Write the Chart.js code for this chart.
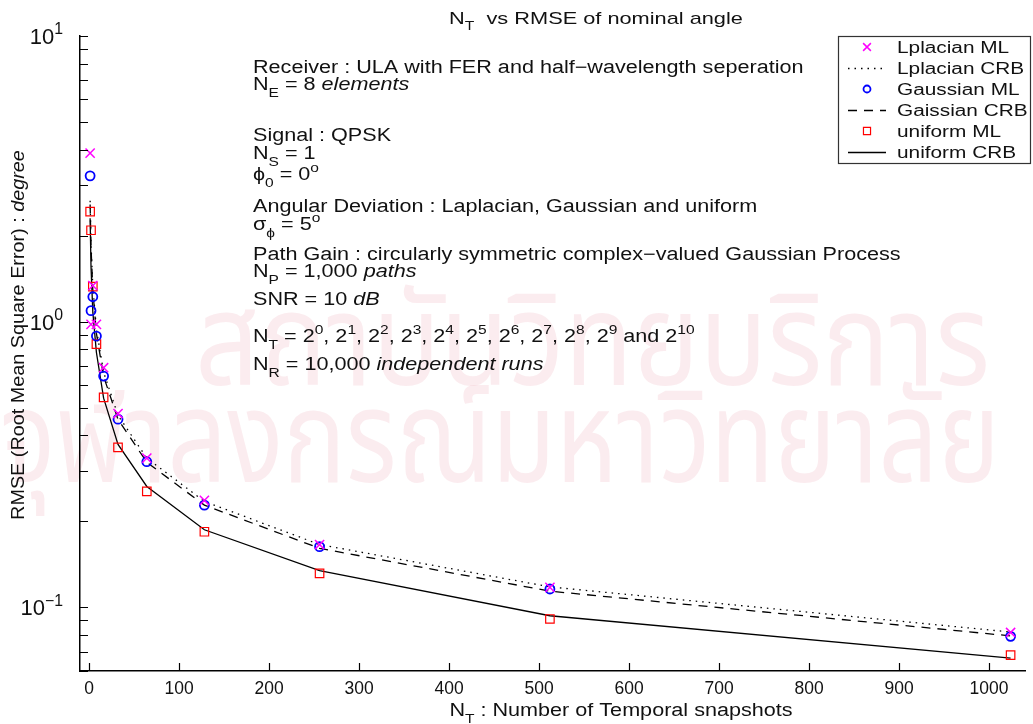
<!DOCTYPE html>
<html>
<head>
<meta charset="utf-8">
<script src="https://cdn.jsdelivr.net/npm/chart.js@4.4.1/dist/chart.umd.min.js"></script>
<style>
  html, body { margin: 0; padding: 0; background: #fff; overflow: hidden; }
  canvas { display: block; }
</style>
</head>
<body>
<canvas id="chart" width="1033" height="724"></canvas>
<script>
// Number of temporal snapshots N_T = 2^0 ... 2^10
const snapshots = [1, 2, 4, 8, 16, 32, 64, 128, 256, 512, 1024];

// RMSE of the nominal angle (degree)
const laplacianML  = [3.89, 0.979, 1.337, 0.979, 0.69, 0.477, 0.333, 0.237, 0.166, 0.1175, 0.0817];
const laplacianCRB = [2.65, 1.87, 1.33, 0.94, 0.665, 0.47, 0.333, 0.235, 0.166, 0.118, 0.082];
const gaussianML   = [3.24, 1.093, 1.223, 0.891, 0.645, 0.456, 0.3236, 0.228, 0.1632, 0.116, 0.0792];
const gaussianCRB  = [2.57, 1.82, 1.29, 0.91, 0.643, 0.455, 0.322, 0.228, 0.161, 0.114, 0.0795];
const uniformML    = [2.43, 2.09, 1.326, 0.835, 0.5436, 0.3634, 0.2549, 0.184, 0.1316, 0.0911, 0.0681];
const uniformCRB   = [2.3, 1.55, 1.08, 0.78, 0.54, 0.372, 0.265, 0.187, 0.1345, 0.0935, 0.0665];

// Axis ticks
const xTickValues = [0, 100, 200, 300, 400, 500, 600, 700, 800, 900, 1000];
const yMajorTicks = [0.1, 1, 10];
const yMajorExponents = ['\u22121', '0', '1'];
const yMinorTicks = [0.06, 0.07, 0.08, 0.09, 0.2, 0.3, 0.4, 0.5, 0.6, 0.7, 0.8, 0.9, 2, 3, 4, 5, 6, 7, 8, 9];

const seriesLabels = ['Lplacian ML', 'Lplacian CRB', 'Gaussian ML', 'Gaissian CRB', 'uniform ML', 'uniform CRB'];

const FONT = '"Liberation Sans", Arial, Helvetica, sans-serif';
const THAI_FONT = '"Noto Sans Thai", "Noto Sans Thai Looped", Loma, Garuda, sans-serif';

function toPoints(values) {
  return snapshots.map((n, i) => ({ x: n, y: values[i] }));
}

// Draws a run of text pieces with optional subscript / superscript / italic,
// horizontally stretched by sx. Returns the drawn width.
function drawRich(ctx, x, y, runs, size, sx, align) {
  ctx.save();
  ctx.textBaseline = 'alphabetic';
  ctx.textAlign = 'left';
  let w = 0;
  const parts = runs.map(r => {
    const s = r.sub || r.sup ? size * 0.72 : size;
    const font = (r.it ? 'italic ' : '') + s + 'px ' + FONT;
    ctx.font = font;
    const pw = ctx.measureText(r.t).width * sx;
    const p = { r, font, dx: w };
    w += pw;
    return p;
  });
  let x0 = x;
  if (align === 'center') x0 = x - w / 2;
  else if (align === 'right') x0 = x - w;
  for (const p of parts) {
    ctx.font = p.font;
    let dy = 0;
    if (p.r.sub) dy = size * 0.38;
    if (p.r.sup) dy = -size * 0.45;
    ctx.save();
    ctx.translate(x0 + p.dx, y + dy);
    ctx.scale(sx, 1);
    ctx.fillText(p.r.t, 0, 0);
    ctx.restore();
  }
  ctx.restore();
  return w;
}

const T = (t) => ({ t });
const SUB = (t) => ({ t, sub: true });
const SUP = (t) => ({ t, sup: true });
const IT = (t) => ({ t, it: true });

// Simulation settings printed inside the plot
const annotationLines = [
  { y: 73,  runs: [T('Receiver : ULA with FER and half\u2212wavelength seperation')] },
  { y: 90,  runs: [T('N'), SUB('E'), T(' = 8 '), IT('elements')] },
  { y: 141, runs: [T('Signal : QPSK')] },
  { y: 159, runs: [T('N'), SUB('S'), T(' = 1')] },
  { y: 180, runs: [T('\u03d5'), SUB('0'), T(' = 0'), SUP('o')] },
  { y: 212, runs: [T('Angular Deviation : Laplacian, Gaussian and uniform')] },
  { y: 230, runs: [T('\u03c3'), SUB('\u03d5'), T(' = 5'), SUP('o')] },
  { y: 260, runs: [T('Path Gain : circularly symmetric complex\u2212valued Gaussian Process')] },
  { y: 277, runs: [T('N'), SUB('P'), T(' = 1,000 '), IT('paths')] },
  { y: 305, runs: [T('SNR = 10 '), IT('dB')] },
  { y: 342, runs: [T('N'), SUB('T'), T(' = 2'), SUP('0'), T(', 2'), SUP('1'), T(', 2'), SUP('2'), T(', 2'), SUP('3'),
                   T(', 2'), SUP('4'), T(', 2'), SUP('5'), T(', 2'), SUP('6'), T(', 2'), SUP('7'), T(', 2'), SUP('8'),
                   T(', 2'), SUP('9'), T(' and 2'), SUP('10')] },
  { y: 370, runs: [T('N'), SUB('R'), T(' = 10,000 '), IT('independent runs')] }
];

// Faint institutional watermark behind the plot
const watermarkLines = [
  { text: 'สถาบันวิทยบริการ', x: 195, y: 385, width: 795 },
  { text: 'จุฬาลงกรณ์มหาวิทยาลัย', x: 0, y: 482, width: 1000 }
];

const watermarkPlugin = {
  id: 'watermark',
  beforeDraw(chart) {
    const ctx = chart.ctx;
    ctx.save();
    ctx.fillStyle = '#ffffff';
    ctx.fillRect(0, 0, chart.width, chart.height);
    ctx.fillStyle = 'rgba(225, 130, 150, 0.15)';
    ctx.textBaseline = 'alphabetic';
    ctx.textAlign = 'left';
    ctx.font = '122px ' + THAI_FONT;
    watermarkLines.forEach(l => {
      const w = ctx.measureText(l.text).width;
      ctx.save();
      ctx.translate(l.x, l.y);
      ctx.scale(l.width / w, 1.05);
      ctx.fillText(l.text, 0, 0);
      ctx.restore();
    });
    ctx.restore();
  }
};

const decorPlugin = {
  id: 'decor',
  afterDraw(chart) {
    const ctx = chart.ctx;
    const xs = chart.scales.x, ys = chart.scales.y;
    const area = chart.chartArea;
    ctx.save();
    ctx.strokeStyle = '#000';
    ctx.fillStyle = '#000';
    ctx.lineWidth = 1.2;

    // x ticks, pointing into the plot
    ctx.beginPath();
    xTickValues.forEach(v => {
      const px = Math.round(xs.getPixelForValue(v)) + 0.5;
      ctx.moveTo(px, area.bottom);
      ctx.lineTo(px, area.bottom - 8);
    });
    // y ticks (major and minor), pointing into the plot
    yMajorTicks.concat(yMinorTicks).forEach(v => {
      const py = Math.round(ys.getPixelForValue(v)) + 0.5;
      ctx.moveTo(area.left, py);
      ctx.lineTo(area.left + 8, py);
    });
    ctx.stroke();

    // x tick labels
    ctx.fillStyle = '#111';
    xTickValues.forEach(v => {
      drawRich(ctx, xs.getPixelForValue(v), 694, [T(String(v))], 19, 0.92, 'center');
    });

    // y tick labels as powers of ten
    yMajorTicks.forEach((v, i) => {
      const py = ys.getPixelForValue(v);
      drawRich(ctx, 63, py + 8, [T('10'), SUP(yMajorExponents[i])], 22, 1.0, 'right');
    });

    // title
    drawRich(ctx, 596, 24, [T('N'), SUB('T'), T('  vs RMSE of nominal angle')], 17, 1.28, 'center');

    // x axis title
    drawRich(ctx, 621, 716, [T('N'), SUB('T'), T(' : Number of Temporal snapshots')], 18, 1.2, 'center');

    // y axis title (rotated)
    ctx.save();
    ctx.translate(24, 335);
    ctx.rotate(-Math.PI / 2);
    drawRich(ctx, 0, 0, [T('RMSE (Root Mean Square Error) : '), IT('degree')], 18, 1.1, 'center');
    ctx.restore();

    // simulation settings
    annotationLines.forEach(line => drawRich(ctx, 253, line.y, line.runs, 18, 1.2, 'left'));

    // legend
    const lx = 838, ly = 36, lw = 192, lh = 127;
    ctx.fillStyle = '#fff';
    ctx.fillRect(lx, ly, lw, lh);
    ctx.strokeStyle = '#333';
    ctx.lineWidth = 1.2;
    ctx.strokeRect(lx + 0.5, ly + 0.5, lw, lh);
    const rowY = [47, 68, 89, 110, 131, 152];
    chart.data.datasets.forEach((ds, i) => {
      const cy = rowY[i];
      ctx.save();
      if (ds.showLine === false) {
        ctx.strokeStyle = ds.borderColor;
        ctx.fillStyle = 'rgba(0,0,0,0)';
        ctx.lineWidth = ds.pointBorderWidth;
        Chart.helpers.drawPoint(ctx, {
          pointStyle: ds.pointStyle, radius: ds.pointRadius - 1, borderWidth: ds.pointBorderWidth, rotation: 0
        }, 867, cy);
      } else {
        ctx.strokeStyle = '#000';
        ctx.lineWidth = ds.borderWidth;
        ctx.setLineDash(ds.borderDash || []);
        ctx.beginPath();
        ctx.moveTo(848, cy + 0.5);
        ctx.lineTo(886, cy + 0.5);
        ctx.stroke();
      }
      ctx.restore();
      ctx.fillStyle = '#111';
      drawRich(ctx, 897, cy + 6, [T(ds.label)], 16, 1.3, 'left');
    });
    ctx.restore();
  }
};

const lineBase = { borderColor: '#000', borderWidth: 1.3, pointRadius: 0, tension: 0, fill: false, order: 2 };

new Chart(document.getElementById('chart'), {
  type: 'line',
  data: {
    datasets: [
      { label: seriesLabels[0], data: toPoints(laplacianML), showLine: false, pointStyle: 'crossRot',
        pointRadius: 6.5, pointBorderWidth: 1.5, borderColor: '#ff00ff', backgroundColor: 'rgba(0,0,0,0)', order: 0 },
      Object.assign({ label: seriesLabels[1], data: toPoints(laplacianCRB), borderDash: [1.5, 5] }, lineBase),
      { label: seriesLabels[2], data: toPoints(gaussianML), showLine: false, pointStyle: 'circle',
        pointRadius: 4.5, pointBorderWidth: 1.8, borderColor: '#0000ff', backgroundColor: 'rgba(0,0,0,0)', order: 0 },
      Object.assign({ label: seriesLabels[3], data: toPoints(gaussianCRB), borderDash: [9, 7] }, lineBase),
      { label: seriesLabels[4], data: toPoints(uniformML), showLine: false, pointStyle: 'rect',
        pointRadius: 6, pointBorderWidth: 1.2, borderColor: '#ff0000', backgroundColor: 'rgba(0,0,0,0)', order: 0 },
      Object.assign({ label: seriesLabels[5], data: toPoints(uniformCRB) }, lineBase)
    ]
  },
  options: {
    responsive: false,
    animation: false,
    events: [],
    layout: { padding: { top: 36, left: 0, right: 0, bottom: 0 } },
    plugins: { legend: { display: false }, tooltip: { enabled: false }, title: { display: false } },
    scales: {
      x: {
        type: 'linear', min: -10.25, max: 1040,
        grid: { display: false },
        ticks: { display: false },
        border: { display: true, color: '#000', width: 1.5 },
        afterFit(s) { s.height = 53; }
      },
      y: {
        type: 'logarithmic', min: 0.0599, max: 10,
        grid: { display: false },
        ticks: { display: false },
        border: { display: true, color: '#000', width: 1.5 },
        afterFit(s) { s.width = 80; }
      }
    }
  },
  plugins: [watermarkPlugin, decorPlugin]
});
</script>
</body>
</html>
